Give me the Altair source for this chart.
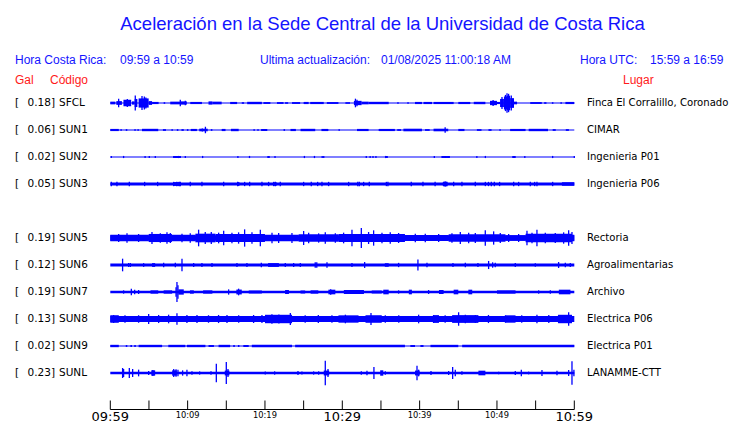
import altair as alt
import pandas as pd

# ---------------- data ----------------
codes = ["SFCL", "SUN1", "SUN2", "SUN3", "SUN5", "SUN6", "SUN7", "SUN8", "SUN9", "SUNL"]
gal_max = [0.18, 0.06, 0.02, 0.05, 0.19, 0.12, 0.19, 0.13, 0.02, 0.23]
places = ["Finca El Corralillo, Coronado", "CIMAR", "Ingenieria P01", "Ingenieria P06",
          "Rectoria", "Agroalimentarias", "Archivo", "Electrica P06", "Electrica P01", "LANAMME-CTT"]
slots = [0, 1, 2, 3, 5, 6, 7, 8, 9, 10]          # row order (row 4 is empty)
band = [0.01, 0.01, 0.01, 0.028, 0.05, 0.03, 0.025, 0.055, 0.01, 0.025]   # background noise (gal)

# (start minute, end minute, half amplitude in gal)
blocks = {
    "SFCL": [(0, 0.65, 0.025), (0.78, 1.5, 0.035), (1.7, 2.7, 0.06), (2.8, 3.15, 0.03), (3.15, 3.5, 0.075),
             (3.66, 4.96, 0.085), (4.96, 5.4, 0.035), (5.4, 6.25, 0.02), (6.9, 7.1, 0.015), (7.75, 9.05, 0.025),
             (9.05, 9.9, 0.03), (10.34, 11.85, 0.02), (12.7, 13.2, 0.03), (13.2, 14.4, 0.025), (15.5, 16.4, 0.02),
             (17.0, 17.3, 0.015), (17.7, 19.6, 0.022), (19.8, 20.7, 0.017), (21.55, 22.4, 0.017), (22.6, 23.0, 0.015),
             (23.5, 24.55, 0.017), (25.0, 25.65, 0.02), (25.85, 27.6, 0.02), (28.0, 29.5, 0.017), (30.4, 31.0, 0.015),
             (31.5, 32.5, 0.04), (32.5, 33.4, 0.025), (33.4, 36.0, 0.022), (37.1, 37.3, 0.015), (38.4, 38.6, 0.015),
             (39.4, 40.3, 0.02), (40.5, 41.6, 0.02), (41.8, 44.4, 0.02), (45.0, 46.55, 0.02), (47.0, 48.5, 0.022),
             (49.1, 50.0, 0.04), (50.0, 50.4, 0.02), (50.4, 50.9, 0.075), (50.9, 51.3, 0.12), (51.3, 51.7, 0.135),
             (51.7, 52.2, 0.09), (52.2, 52.6, 0.025), (54.3, 55.8, 0.017), (56.1, 56.4, 0.015), (57.1, 57.3, 0.015),
             (58.2, 58.4, 0.015), (58.85, 60.0, 0.02)],
    "SUN1": [(0, 1.1, 0.02), (1.3, 1.5, 0.016), (2.0, 2.2, 0.016), (3.1, 3.3, 0.016), (3.5, 3.7, 0.016),
             (4.1, 6.2, 0.022), (6.8, 7.2, 0.016), (7.9, 8.1, 0.016), (8.6, 8.8, 0.016), (9.2, 9.5, 0.016),
             (9.9, 10.1, 0.016), (10.4, 11.2, 0.02), (11.5, 12.6, 0.024), (13.0, 13.2, 0.016), (14.4, 14.9, 0.02),
             (15.6, 16.6, 0.022), (18.5, 18.7, 0.016), (19.0, 19.2, 0.016), (19.5, 20.3, 0.02), (22.4, 22.6, 0.016),
             (23.3, 24.0, 0.02), (24.6, 26.5, 0.022), (27.3, 28.2, 0.02), (29.5, 29.7, 0.016), (31.9, 33.4, 0.02),
             (34.7, 36.8, 0.02), (37.1, 37.6, 0.016), (37.9, 40.3, 0.024), (40.7, 41.3, 0.016), (41.8, 43.7, 0.024),
             (45.0, 45.8, 0.02), (47.4, 48.0, 0.016), (48.9, 49.3, 0.016), (50.3, 50.5, 0.016), (51.7, 53.7, 0.02),
             (54.1, 56.6, 0.022), (57.2, 57.6, 0.016), (58.9, 59.3, 0.016)],
    "SUN2": [(8.2, 9.1, 0.018), (20.3, 20.6, 0.018), (35.55, 35.8, 0.018), (42.9, 43.9, 0.018), (52.0, 52.4, 0.018)],
    "SUN3": [(8.2, 9.1, 0.035), (16.4, 16.7, 0.035), (21.2, 21.5, 0.035), (43.0, 43.6, 0.04), (58.4, 60.0, 0.033)],
    "SUN5": [(0, 4.96, 0.06), (4.96, 7.97, 0.075), (7.97, 11.0, 0.06), (11.0, 13.6, 0.08), (13.6, 20.0, 0.075),
             (20.0, 24.35, 0.06), (24.35, 29.5, 0.07), (29.5, 38.1, 0.075), (38.1, 43.75, 0.055),
             (43.75, 51.1, 0.07), (51.1, 53.7, 0.05), (53.7, 59.7, 0.08), (59.7, 60.0, 0.06)],
    "SUN6": [(5.4, 5.8, 0.035), (20.4, 21.8, 0.035), (35.5, 36.0, 0.033)],
    "SUN7": [(5.2, 6.2, 0.031), (6.9, 8.0, 0.031), (8.8, 9.5, 0.049), (10.3, 10.8, 0.031), (12.0, 13.2, 0.031),
             (16.3, 17.0, 0.045), (17.9, 19.6, 0.028), (22.6, 23.1, 0.037), (24.6, 25.2, 0.028), (25.9, 26.9, 0.031),
             (28.2, 29.1, 0.043), (30.2, 32.8, 0.037), (33.8, 35.1, 0.028), (35.3, 36.0, 0.043), (38.6, 39.0, 0.043),
             (42.5, 43.1, 0.037), (44.4, 45.0, 0.043), (46.3, 46.8, 0.043), (50.0, 52.4, 0.031), (58.0, 59.5, 0.043)],
    "SUN8": [(0, 1.1, 0.07), (20.0, 23.5, 0.078), (29.5, 32.1, 0.068), (33.0, 35.1, 0.07), (41.8, 42.5, 0.072),
             (44.2, 47.6, 0.072), (51.1, 52.4, 0.068), (57.9, 59.7, 0.078)],
    "SUN9": [(0, 1.1, 0.022), (2.0, 2.2, 0.018), (2.6, 2.8, 0.018), (3.1, 3.3, 0.018), (3.66, 6.7, 0.022),
             (7.5, 9.7, 0.022), (9.9, 12.3, 0.022), (12.7, 13.4, 0.018), (14.0, 15.5, 0.022), (15.9, 16.1, 0.018),
             (16.5, 16.7, 0.018), (17.2, 17.9, 0.018), (18.3, 23.5, 0.022), (23.9, 38.1, 0.022), (38.8, 39.4, 0.018),
             (40.1, 40.5, 0.018), (41.4, 45.0, 0.022), (45.5, 60.0, 0.022)],
    "SUNL": [(5.3, 5.8, 0.05), (8.0, 8.6, 0.05), (14.8, 15.4, 0.045), (27.6, 28.3, 0.045), (34.9, 35.3, 0.05),
             (39.4, 40.0, 0.045), (47.6, 48.5, 0.043)],
}

# (minute, half amplitude in gal)
spikes = {
    "SFCL": [(1.08, 0.08), (2.2, 0.075), (3.23, 0.14), (4.1, 0.13), (4.4, 0.12), (4.6, 0.1), (9.05, 0.06),
             (9.7, 0.04), (31.7, 0.08), (31.9, 0.06), (49.5, 0.055), (50.65, 0.11), (51.1, 0.15), (51.3, 0.18),
             (51.5, 0.17), (51.85, 0.14)],
    "SUN1": [(11.9, 0.03), (12.3, 0.06), (43.3, 0.05)],
    "SUN2": [(0.13, 0.02), (1.72, 0.02), (4.5, 0.02), (5.04, 0.02), (5.82, 0.02), (8.2, 0.02), (8.5, 0.02),
             (8.8, 0.02), (9.05, 0.02), (9.7, 0.02), (11.94, 0.02), (16.5, 0.02), (18.0, 0.02), (20.5, 0.02),
             (21.3, 0.02), (25.1, 0.02), (26.4, 0.02), (27.4, 0.02), (27.6, 0.02), (33.1, 0.02), (33.6, 0.02),
             (33.97, 0.02), (34.35, 0.02), (35.6, 0.02), (35.8, 0.02), (41.9, 0.02), (42.9, 0.02), (43.3, 0.02),
             (43.8, 0.02), (47.4, 0.02), (48.5, 0.02), (52.1, 0.02), (52.3, 0.02), (53.6, 0.02), (57.2, 0.02),
             (60.0, 0.02)],
    "SUN3": [(0.13, 0.04), (0.86, 0.04), (2.46, 0.04), (4.44, 0.04), (6.12, 0.04), (8.19, 0.04), (8.6, 0.04),
             (8.9, 0.04), (9.05, 0.04), (10.34, 0.04), (11.85, 0.04), (14.66, 0.04), (16.47, 0.04), (17.37, 0.04),
             (18.02, 0.04), (19.61, 0.04), (20.47, 0.04), (21.12, 0.04), (21.34, 0.04), (21.98, 0.04), (25.0, 0.04),
             (25.99, 0.04), (26.81, 0.04), (27.37, 0.04), (28.23, 0.04), (30.82, 0.04), (32.0, 0.04), (32.2, 0.04),
             (32.76, 0.04), (33.49, 0.04), (35.7, 0.04), (35.9, 0.04), (38.92, 0.04), (40.43, 0.04), (42.0, 0.04),
             (43.1, 0.04), (43.3, 0.05), (43.5, 0.04), (44.4, 0.04), (45.47, 0.04), (47.2, 0.04), (48.5, 0.04),
             (48.9, 0.04), (49.27, 0.04), (49.66, 0.04), (50.34, 0.04), (52.16, 0.04), (52.8, 0.04), (54.31, 0.04),
             (54.87, 0.04), (55.17, 0.04), (57.2, 0.04)],
    "SUN5": [(1.08, 0.074), (2.16, 0.086), (3.66, 0.074), (5.39, 0.111), (6.47, 0.086), (7.33, 0.105),
             (7.76, 0.093), (9.27, 0.08), (10.34, 0.086), (11.42, 0.154), (12.28, 0.111), (13.06, 0.111),
             (14.01, 0.099), (14.66, 0.136), (15.73, 0.099), (16.59, 0.105), (17.37, 0.16), (18.32, 0.105),
             (19.4, 0.154), (20.91, 0.099), (21.77, 0.093), (23.49, 0.093), (25.0, 0.13), (25.65, 0.099),
             (26.94, 0.086), (27.8, 0.105), (29.1, 0.086), (30.17, 0.099), (31.25, 0.154), (32.46, 0.185),
             (33.4, 0.111), (34.05, 0.142), (35.13, 0.099), (36.2, 0.105), (37.28, 0.093), (39.44, 0.08),
             (40.73, 0.08), (42.46, 0.074), (44.18, 0.086), (45.26, 0.111), (46.34, 0.099), (47.2, 0.093),
             (48.49, 0.142), (49.57, 0.123), (50.43, 0.093), (51.51, 0.074), (52.8, 0.074), (53.88, 0.136),
             (54.53, 0.099), (55.17, 0.154), (56.25, 0.099), (57.54, 0.093), (58.62, 0.105), (59.27, 0.142),
             (59.7, 0.111)],
    "SUN6": [(1.59, 0.117), (2.37, 0.037), (2.59, 0.035), (4.31, 0.035), (6.9, 0.04), (8.41, 0.04), (9.27, 0.115),
             (10.78, 0.035), (11.85, 0.035), (13.15, 0.035), (16.38, 0.035), (17.67, 0.035), (19.53, 0.04),
             (22.63, 0.035), (23.71, 0.035), (24.57, 0.035), (26.5, 0.05), (26.7, 0.05), (28.02, 0.05),
             (31.25, 0.035), (32.89, 0.055), (37.28, 0.04), (39.78, 0.1), (40.95, 0.04), (44.31, 0.035),
             (45.91, 0.04), (47.54, 0.035), (48.92, 0.075), (49.44, 0.05), (49.78, 0.04), (52.37, 0.035),
             (54.96, 0.033), (57.97, 0.055), (58.84, 0.04), (59.48, 0.035)],
    "SUN7": [(1.72, 0.031), (2.72, 0.062), (3.15, 0.043), (3.66, 0.037), (8.5, 0.09), (8.62, 0.185),
             (8.75, 0.123), (15.3, 0.049), (16.59, 0.062), (28.5, 0.05), (37.28, 0.031), (41.16, 0.037),
             (55.39, 0.031), (56.9, 0.031)],
    "SUN8": [(0.43, 0.074), (1.9, 0.07), (3.66, 0.07), (4.96, 0.093), (6.25, 0.075), (7.54, 0.08), (8.62, 0.105),
             (9.91, 0.075), (11.21, 0.074), (12.7, 0.07), (14.0, 0.075), (15.09, 0.074), (16.6, 0.07),
             (18.53, 0.074), (19.61, 0.074), (20.9, 0.09), (21.8, 0.085), (23.28, 0.111), (25.2, 0.07),
             (26.9, 0.075), (28.66, 0.07), (30.4, 0.08), (33.71, 0.111), (35.56, 0.07), (37.3, 0.07),
             (39.87, 0.08), (41.8, 0.074), (43.3, 0.07), (45.04, 0.125), (45.91, 0.08), (47.2, 0.074),
             (48.9, 0.075), (51.1, 0.07), (53.2, 0.07), (55.17, 0.08), (56.7, 0.072), (57.97, 0.074),
             (59.27, 0.123)],
    "SUN9": [],
    "SUNL": [(1.59, 0.093), (1.72, 0.074), (2.46, 0.093), (2.89, 0.074), (3.66, 0.062), (4.96, 0.037),
             (5.5, 0.056), (8.2, 0.074), (8.5, 0.07), (8.75, 0.062), (9.35, 0.049), (9.91, 0.062), (10.56, 0.031),
             (11.55, 0.03), (13.02, 0.031), (13.71, 0.173), (15.0, 0.204), (15.22, 0.074), (20.04, 0.03),
             (21.25, 0.031), (24.27, 0.037), (24.78, 0.03), (26.29, 0.03), (26.94, 0.031), (27.8, 0.228),
             (28.15, 0.074), (32.46, 0.031), (33.19, 0.043), (34.09, 0.111), (35.56, 0.031), (39.66, 0.136),
             (39.87, 0.062), (41.47, 0.037), (43.75, 0.037), (44.27, 0.111), (44.61, 0.062), (45.47, 0.031),
             (50.22, 0.025), (52.37, 0.037), (53.15, 0.062), (54.09, 0.025), (55.82, 0.056), (57.76, 0.043),
             (59.27, 0.056), (59.7, 0.216), (59.95, 0.062)],
}

tick_minutes = [0, 5, 10, 15, 20, 25, 30, 35, 40, 45, 50, 55, 60]
label_minutes = [0, 10, 20, 30, 40, 50, 60]
label_texts = ["09:59", "10:09", "10:19", "10:29", "10:39", "10:49", "10:59"]
major_labels = ["09:59", "10:29", "10:59"]

title_text = "Aceleración en la Sede Central de la Universidad de Costa Rica"
hora_cr = "09:59 a 10:59"
ultima = "01/08/2025 11:00:18 AM"
hora_utc = "15:59 a 16:59"

# ---------------- build tables ----------------
SPACING = 0.5  # gal between trace baselines
centre = {c: -SPACING * s for c, s in zip(codes, slots)}

df_band = pd.DataFrame([dict(code=c, t0=0, t1=60, lo=centre[c] - b, hi=centre[c] + b)
                        for c, b in zip(codes, band)])
df_blk = pd.DataFrame([dict(code=c, t0=a, t1=b, lo=centre[c] - amp, hi=centre[c] + amp)
                       for c, lst in blocks.items() for a, b, amp in lst])
df_spk = pd.DataFrame([dict(code=c, t=t, lo=centre[c] - amp, hi=centre[c] + amp)
                       for c, lst in spikes.items() for t, amp in lst])
df_lab = pd.DataFrame(dict(code=codes, galtxt=[f"{g:.2f}]" for g in gal_max], place=places,
                           c=[centre[c] for c in codes]))
df_ticks = pd.DataFrame(dict(t=tick_minutes))
df_tlab = pd.DataFrame(dict(t=label_minutes, s=label_texts))
df_tlab["major"] = df_tlab["s"].isin(major_labels)
df_axis = pd.DataFrame(dict(t0=[0], t1=[60]))

BLUE = "#0000ff"
TBLUE = "#1414ff"
RED = "#ff1a1a"
SANS = "Liberation Sans"
DJ = "DejaVu Sans"

xs = alt.Scale(domain=[0, 60], range=[102.3, 566.3], nice=False, zero=False)
ys = alt.Scale(domain=[-5.0, 0.0], range=[365, 95], nice=False, zero=False)
X = lambda f: alt.X(f, type="quantitative", scale=xs, axis=None)
Y = lambda f: alt.Y(f, type="quantitative", scale=ys, axis=None)

band_l = alt.Chart(df_band).mark_rect(color=BLUE).encode(x=X("t0"), x2="t1", y=Y("lo"), y2="hi")
blk_l = alt.Chart(df_blk).mark_rect(color=BLUE).encode(x=X("t0"), x2="t1", y=Y("lo"), y2="hi")
spk_l = alt.Chart(df_spk).mark_rule(color=BLUE, strokeWidth=1.3).encode(x=X("t"), y=Y("lo"), y2="hi")

def lab(field_or_text, xpix, align, color="black", font=DJ, size=10.5):
    base = alt.Chart(df_lab).mark_text(align=align, baseline="middle", font=font, fontSize=size,
                                       color=color, dy=-0.5)
    enc = dict(x=alt.value(xpix), y=Y("c"))
    if field_or_text in df_lab.columns:
        enc["text"] = alt.Text(field_or_text + ":N")
    else:
        enc["text"] = alt.value(field_or_text)
    return base.encode(**enc)

left1 = lab("[", 7, "left")
left2 = lab("galtxt", 47, "right")
left3 = lab("code", 51, "left")
right = lab("place", 579, "left", size=10.1)

axis_line = alt.Chart(df_axis).mark_rule(color="black", strokeWidth=1).encode(
    x=X("t0"), x2="t1", y=alt.value(401.5))
ticks = alt.Chart(df_ticks).mark_rule(color="black", strokeWidth=1).encode(
    x=X("t"), y=alt.value(392.5), y2=alt.value(401.5))
tl_major = alt.Chart(df_tlab).transform_filter("datum.major").mark_text(
    font=DJ, fontSize=13, baseline="alphabetic", align="center", color="black").encode(
    x=X("t"), y=alt.value(412.5), text="s:N")
tl_minor = alt.Chart(df_tlab).transform_filter("!datum.major").mark_text(
    font=DJ, fontSize=8.3, baseline="alphabetic", align="center", color="black").encode(
    x=X("t"), y=alt.value(410.2), text="s:N")

def free_text(txt, xpix, ypix, size, color, font=SANS, align="left"):
    return alt.Chart(pd.DataFrame(dict(s=[txt]))).mark_text(
        align=align, baseline="middle", font=font, fontSize=size, color=color).encode(
        x=alt.value(xpix), y=alt.value(ypix), text="s:N")

header = [
    free_text(title_text, 374.5, 15.5, 18.5, TBLUE, align="center"),
    free_text("Hora Costa Rica:", 7, 52, 12, TBLUE),
    free_text(hora_cr, 112, 52, 12, TBLUE),
    free_text("Ultima actualización:", 252, 52, 12, TBLUE),
    free_text(ultima, 373, 52, 12, TBLUE),
    free_text("Hora UTC:", 572, 52, 12, TBLUE),
    free_text(hora_utc, 642, 52, 12, TBLUE),
    free_text("Gal", 7, 72, 12, RED),
    free_text("Código", 42, 72, 12, RED),
    free_text("Lugar", 615, 72, 12, RED),
]

chart = alt.layer(band_l, blk_l, spk_l, left1, left2, left3, right,
                  axis_line, ticks, tl_major, tl_minor, *header).properties(
    width=724, height=415, autosize=alt.AutoSizeParams(type="none"), padding=0,
    background="white").configure_view(stroke=None)

chart.save("out.html", embed_options={"renderer": "svg", "actions": False})
